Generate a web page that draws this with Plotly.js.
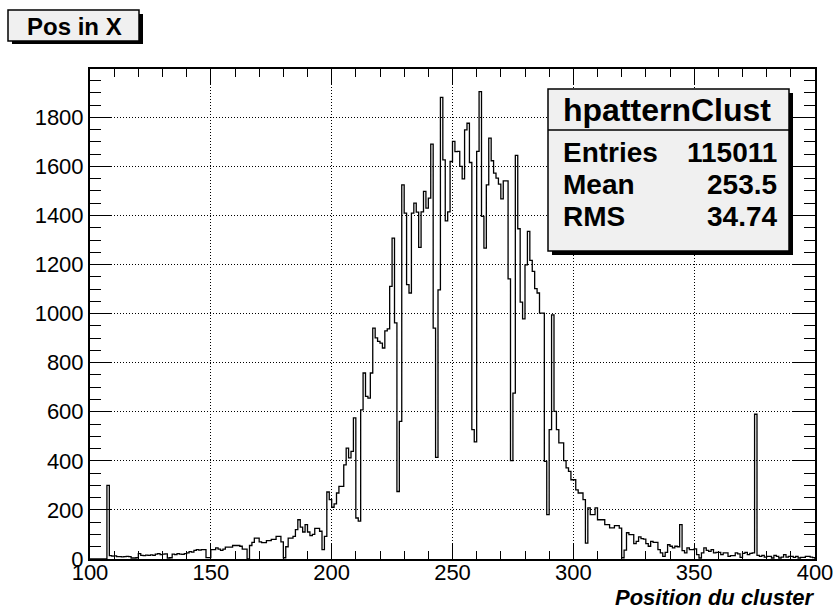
<!DOCTYPE html>
<html><head><meta charset="utf-8">
<script src="https://cdn.plot.ly/plotly-3.0.1.min.js"></script>
<style>html,body{margin:0;padding:0;background:#fff}#chart{width:834px;height:610px}</style>
</head><body><div id="chart"></div>
<script>
// ---- data ----
const binLow = 100;
const binWidth = 1;
const counts = [
  0,0,0,0,0,0,0,300,14,12,
  13,10,10,9,10,11,10,4,4,5,
  22,15,14,16,15,17,15,20,22,18,
  20,21,4,5,20,18,22,20,19,22,
  25,30,28,35,38,36,38,38,6,6,
  38,38,45,40,35,40,48,48,48,55,
  55,55,52,40,40,0,55,68,85,85,
  70,67,67,75,75,80,80,92,92,70,
  5,50,85,85,92,120,160,130,110,140,
  110,95,100,125,125,113,38,92,273,242,
  211,225,269,296,296,384,452,412,439,575,
  167,154,608,758,663,656,758,941,901,887,
  880,860,930,938,1111,1308,962,275,561,1525,
  1410,1118,1084,1410,1450,1414,1270,1415,1498,1430,
  1471,1691,941,414,1097,1881,1627,1378,1415,1620,
  1702,1660,1661,1600,1549,1749,1776,1616,527,477,
  1661,1905,1396,1267,1525,1715,1623,1573,1552,1528,
  1468,1541,1541,1142,401,676,1645,1346,1047,979,
  1199,1335,1217,1172,1102,1084,1002,1002,398,181,
  527,995,602,527,473,473,401,371,357,323,
  323,282,269,269,242,65,208,181,181,208,
  160,160,160,140,140,127,127,136,136,126,
  5,36,107,99,99,63,72,90,83,81,
  63,52,72,68,68,38,25,11,27,58,
  52,45,52,50,140,34,25,45,38,38,
  41,18,4,25,45,35,31,38,25,27,
  27,18,25,25,11,14,14,25,21,7,
  23,27,18,23,25,590,15,11,15,8,
  11,11,4,15,11,4,8,18,8,11,
  11,7,11,4,7,7,11,11,8,6
];
const histTitle = 'Pos in X';
const statsName = 'hpatternClust';
const statsLabels = ['Entries', 'Mean', 'RMS'];
const statsValues = ['115011', '253.5', '34.74'];
const xTitle = 'Position du cluster';
const xRange = [100, 400];
const yRange = [0, 1997];

// ---- build step outline ----
const xs = [binLow];
const ys = [0];
counts.forEach((c, i) => { xs.push(binLow + i * binWidth); ys.push(c); });
xs.push(binLow + counts.length * binWidth); ys.push(counts[counts.length - 1]);
xs.push(binLow + counts.length * binWidth); ys.push(0);

const W = 834, H = 610;
const L = 90, R = 19, T = 69, B = 51;
const pw = W - L - R, ph = H - T - B;
const px = x => (x - L) / pw;
const py = y => (H - B - y) / ph;
const FONT = 'Liberation Sans, Arial, Helvetica, sans-serif';

function rectShape(x0, y0, x1, y1, fill, lw) {
  return {type: 'rect', xref: 'paper', yref: 'paper', layer: 'above',
    x0: px(x0), x1: px(x1), y0: py(y1), y1: py(y0),
    fillcolor: fill, line: {color: '#000', width: lw}};
}

const shapes = [
  rectShape(12, 14, 143, 44, '#000', 0),
  rectShape(8, 10, 139, 41, '#f0f0f0', 1.5),
  rectShape(552, 93, 793, 255, '#000', 0),
  rectShape(548, 89, 789, 251, '#f0f0f0', 1.5),
  {type: 'line', xref: 'paper', yref: 'paper', layer: 'above',
   x0: px(548), x1: px(789), y0: py(130), y1: py(130), line: {color: '#000', width: 1.5}}
];

const annotations = [
  {text: '<b>' + histTitle + '</b>', xref: 'paper', yref: 'paper', x: px(74), y: py(26),
   xanchor: 'center', yanchor: 'middle', showarrow: false, font: {family: FONT, size: 24, color: '#000'}},
  {text: '<b>' + statsName + '</b>', xref: 'paper', yref: 'paper', x: px(667), y: py(110),
   xanchor: 'center', yanchor: 'middle', showarrow: false, font: {family: FONT, size: 32, color: '#000'}},
  {text: '<b><i>' + xTitle + '</i></b>', xref: 'paper', yref: 'paper', x: 1, y: py(597),
   xanchor: 'right', yanchor: 'middle', showarrow: false, borderpad: 0,
   font: {family: FONT, size: 22, color: '#000'}}
];
const rowY = [152, 184, 216];
statsLabels.forEach((lab, i) => {
  annotations.push({text: '<b>' + lab + '</b>', xref: 'paper', yref: 'paper', x: px(561), y: py(rowY[i]),
    xanchor: 'left', yanchor: 'middle', showarrow: false, font: {family: FONT, size: 28, color: '#000'}});
  annotations.push({text: '<b>' + statsValues[i] + '</b>', xref: 'paper', yref: 'paper', x: px(779), y: py(rowY[i]),
    xanchor: 'right', yanchor: 'middle', showarrow: false, font: {family: FONT, size: 28, color: '#000'}});
});

const trace = {
  x: xs, y: ys, type: 'scatter', mode: 'lines',
  line: {shape: 'hv', color: '#000', width: 1.3},
  hoverinfo: 'skip'
};

const layout = {
  width: W, height: H,
  margin: {l: L, r: R, t: T, b: B, pad: 0},
  paper_bgcolor: '#fff', plot_bgcolor: '#fff',
  showlegend: false,
  font: {family: FONT, size: 22, color: '#000'},
  xaxis: {
    range: xRange, dtick: 50, tick0: 100, ticks: 'inside', ticklen: 15, tickwidth: 1, tickcolor: '#000',
    minor: {dtick: 10, ticks: 'inside', ticklen: 8, tickcolor: '#000', showgrid: false},
    showline: true, linecolor: '#000', linewidth: 2, mirror: 'allticks',
    showgrid: true, gridcolor: '#000', gridwidth: 1, griddash: '1px,2px',
    zeroline: false, ticklabelstandoff: -7,
    tickfont: {family: FONT, size: 22, color: '#000'}
  },
  yaxis: {
    range: yRange, dtick: 200, tick0: 0, ticks: 'inside', ticklen: 22, tickwidth: 1, tickcolor: '#000',
    minor: {dtick: 50, ticks: 'inside', ticklen: 11, tickcolor: '#000', showgrid: false},
    showline: true, linecolor: '#000', linewidth: 2, mirror: 'allticks',
    showgrid: true, gridcolor: '#000', gridwidth: 1, griddash: '1px,2px',
    zeroline: false, tickfont: {family: FONT, size: 22, color: '#000'}
  },
  shapes: shapes,
  annotations: annotations
};

Plotly.newPlot('chart', [trace], layout, {staticPlot: true, displayModeBar: false});
</script>
</body></html>
